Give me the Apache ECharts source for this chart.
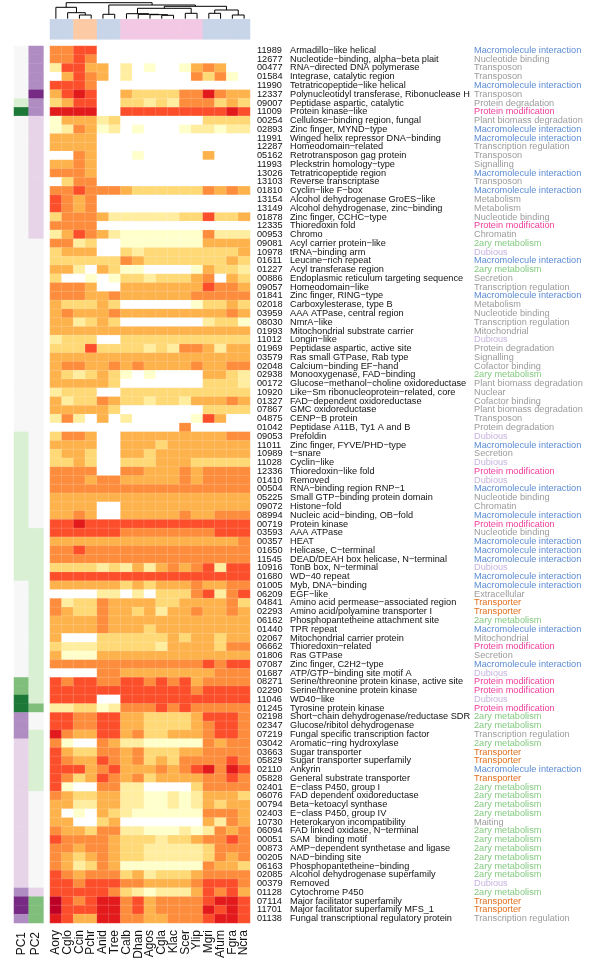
<!DOCTYPE html>
<html><head><meta charset="utf-8">
<script src="https://cdn.jsdelivr.net/npm/echarts@6/dist/echarts.min.js"></script>
<style>html,body{margin:0;padding:0;background:#fff}#c{width:600px;height:965px}</style>
</head><body><div id="c"></div>
<script>
const species = ['Aory','Cglo','Ccin','Pchr','Anid','Tree','Calb','Dhan','Agos','Cgla','Klac','Scer','Ylip','Mgri','Afum','Fgra','Ncra'];
const speciesGroup = [1,1,2,2,1,1,3,3,3,3,3,3,3,1,1,1,1];
const pcLabels = ['PC1','PC2'];

const domainIds = ['11989','12677','00477','01584','11990','12337','09007','11009','00254','02893',
'11991','12287','05162','11993','13026','13103','01810','13154','13149','01878',
'12335','00953','09081','10978','01611','01227','00886','09057','01841','02018',
'03959','08030','01993','11012','01969','03579','02048','02938','00172','10920',
'01327','07867','04875','01042','09053','11011','10989','11028','12336','01410',
'00504','05225','09072','08994','00719','03593','00357','01650','11545','10916',
'01680','01005','06209','04841','02293','06162','01440','02067','06662','01806',
'07087','01687','08271','02290','11046','01245','02198','02347','07219','03042',
'03663','05829','02110','05828','02401','06076','00794','02403','10730','06094',
'00051','00873','00205','06163','02085','00379','01128','07114','11701','01138'];

const domainNames = ['Armadillo−like helical','Nucleotide−binding, alpha−beta plait','RNA−directed DNA polymerase','Integrase, catalytic region','Tetratricopeptide−like helical','Polynucleotidyl transferase, Ribonuclease H','Peptidase aspartic, catalytic','Protein kinase−like','Cellulose−binding region, fungal','Zinc finger, MYND−type',
'Winged helix repressor DNA−binding','Homeodomain−related','Retrotransposon gag protein','Pleckstrin homology−type','Tetratricopeptide region','Reverse transcriptase','Cyclin−like F−box','Alcohol dehydrogenase GroES−like','Alcohol dehydrogenase, zinc−binding','Zinc finger, CCHC−type',
'Thioredoxin fold','Chromo','Acyl carrier protein−like','tRNA−binding arm','Leucine−rich repeat','Acyl transferase region','Endoplasmic reticulum targeting sequence','Homeodomain−like','Zinc finger, RING−type','Carboxylesterase, type B',
'AAA ATPase, central region','NmrA−like','Mitochondrial substrate carrier','Longin−like','Peptidase aspartic, active site','Ras small GTPase, Rab type','Calcium−binding EF−hand','Monooxygenase, FAD−binding','Glucose−methanol−choline oxidoreductase','Like−Sm ribonucleoprotein−related, core',
'FAD−dependent oxidoreductase','GMC oxidoreductase','CENP−B protein','Peptidase A11B, Ty1 A and B','Prefoldin','Zinc finger, FYVE/PHD−type','t−snare','Cyclin−like','Thioredoxin−like fold','Removed',
'RNA−binding region RNP−1','Small GTP−binding protein domain','Histone−fold','Nucleic acid−binding, OB−fold','Protein kinase','AAA ATPase','HEAT','Helicase, C−terminal','DEAD/DEAH box helicase, N−terminal','TonB box, N−terminal',
'WD−40 repeat','Myb, DNA−binding','EGF−like','Amino acid permease−associated region','Amino acid/polyamine transporter I','Phosphopantetheine attachment site','TPR repeat','Mitochondrial carrier protein','Thioredoxin−related','Ras GTPase',
'Zinc finger, C2H2−type','ATP/GTP−binding site motif A','Serine/threonine protein kinase, active site','Serine/threonine protein kinase','WD40−like','Tyrosine protein kinase','Short−chain dehydrogenase/reductase SDR','Glucose/ribitol dehydrogenase','Fungal specific transcription factor','Aromatic−ring hydroxylase',
'Sugar transporter','Sugar transporter superfamily','Ankyrin','General substrate transporter','E−class P450, group I','FAD dependent oxidoreductase','Beta−ketoacyl synthase','E−class P450, group IV','Heterokaryon incompatibility','FAD linked oxidase, N−terminal',
'SAM  binding motif','AMP−dependent synthetase and ligase','NAD−binding site','Phosphopantetheine−binding','Alcohol dehydrogenase superfamily','Removed','Cytochrome P450','Major facilitator superfamily','Major facilitator superfamily MFS_1','Fungal transcriptional regulatory protein'];

const domainClass = ['Macromolecule interaction','Nucleotide binding','Transposon','Transposon','Macromolecule interaction','Transposon','Protein degradation','Protein modification','Plant biomass degradation','Macromolecule interaction',
'Macromolecule interaction','Transcription regulation','Transposon','Signalling','Macromolecule interaction','Transposon','Macromolecule interaction','Metabolism','Metabolism','Nucleotide binding',
'Protein modification','Chromatin','2ary metabolism','Dubious','Macromolecule interaction','2ary metabolism','Secretion','Transcription regulation','Macromolecule interaction','Metabolism',
'Nucleotide binding','Transcription regulation','Mitochondrial','Dubious','Protein degradation','Signalling','Cofactor binding','2ary metabolism','Plant biomass degradation','Nuclear',
'Cofactor binding','Plant biomass degradation','Transposon','Protein degradation','Dubious','Macromolecule interaction','Secretion','Dubious','Protein modification','Dubious',
'Macromolecule interaction','Nucleotide binding','Chromatin','Macromolecule interaction','Protein modification','Nucleotide binding','Macromolecule interaction','Macromolecule interaction','Macromolecule interaction','Dubious',
'Macromolecule interaction','Macromolecule interaction','Extracellular','Transporter','Transporter','2ary metabolism','Macromolecule interaction','Mitochondrial','Protein modification','Secretion',
'Macromolecule interaction','Dubious','Protein modification','Protein modification','Dubious','Protein modification','2ary metabolism','2ary metabolism','Transcription regulation','2ary metabolism',
'Transporter','Transporter','Macromolecule interaction','Transporter','2ary metabolism','2ary metabolism','2ary metabolism','2ary metabolism','Maiting','2ary metabolism',
'2ary metabolism','2ary metabolism','2ary metabolism','2ary metabolism','2ary metabolism','Dubious','2ary metabolism','Transporter','Transporter','Transcription regulation'];

// principal component colour classes per domain (-3 purple .. +3 green)
const pc1 = [0,0,0,0,0,0,1,3,0,0, 0,0,0,0,0,0,0,0,0,0, 0,0,0,0,0,0,0,0,0,0, 0,0,0,0,0,0,0,0,0,0,
 0,0,0,0,1,1,1,1,1,1, 1,1,1,1,1,1,1,1,1,1, 1,0,0,0,0,0,0,0,0,0, 0,0,2,2,3,3,-2,-2,-2,-1,
 -1,-1,-1,-1,-1,-1,-1,-1,-1,-1, -1,-1,-1,-1,-1,-1,-2,-3,-3,-2];
const pc2 = [-2,-2,-2,-2,-2,-3,-2,-2,-1,-1, -1,-1,-1,-1,-1,-1,-1,-1,-1,-1, -1,-1,0,0,0,0,0,0,0,0,
 0,0,0,0,0,0,0,0,0,0, 0,0,0,0,0,0,0,0,0,0, 0,0,0,0,0,1,1,1,1,1, 1,1,1,1,1,1,1,1,1,1,
 1,1,1,1,1,2,0,0,1,1, 1,1,1,1,1,0,0,0,0,0, 0,0,0,0,0,0,-1,2,2,2];

// abundance class per domain (row) and species (column order as `species`), 0 = absent
const counts = [
'55660000000000000','55650000000000000','26644020100145400','04654020000053510','66650000000000000',
'46760043333557544','34660033232555343','77770066666666676','14442300000003333','12541201000122122',
'44440000000000000','44440000000000000','00540001000004000','44540000000000000','55540000000000000',
'03550000000000000','55655543333335454','65450000000000000','65450000000000000','35554222222336334',
'55550000000000000','24654211111115222','55230011111114444','34440032333333334','33333354333333343',
'44204311000014332','30010133233345043','55540044444446554','55544544444455555','43334300000013343',
'45444544444444454','44234300000002331','44444444444444444','23330033333333333','33363333232554244',
'44444444444444444','45544545444454455','43234310100004432','44444300000003332','23330033333333333',
'42335433233244454','44444300000003333','25204020000016400','00000000000500000','35540044444444455',
'44440044434444444','34430044344444444','33430033344433333','55550055444545555','55545544444545555',
'55555555555555555','44444444444444444','44440044444444444','44540044444544555','66766666666666666',
'66666655555555666','44444444444444445','55655555555555555','55555555555555555','33332324245456266',
'66666666666666666','44444434344454455','00002202033356256','52335444433444453','54335443424454454',
'44445444444444444','44445444344444444','40003333334344344','32223333324444355','41114444444444444',
'55555555555556566','00005544444444555','65665566565645555','66666666666656666','66660066666666666',
'22331255565655555','66556644333346665','66556644333345665','75446645334445665','51005422111115455',
'64335545333445555','65446545343555565','66645644454567576','65346545344445565','61005522000035555',
'54334422112124443','44224422112124344','40104321111115554','44003400000004254','54435522111212545',
'65555433323345565','55455433222223555','54345433222223545','54235411111115443','65455534233345555',
'66566655444456665','66666532122246564','86567756455556776','86667756455557676','76447755445556776'];

// species dendrogram: hclust-style merges (negative = leaf number, positive = earlier merge), with merge height
const dendroMerges = [
 [-3,-4,3.7],[-2,1,6.0],[-1,2,11.4],[-5,-6,4.4],[-10,-11,3.4],[-9,5,4.0],[-8,6,4.4],[-7,7,5.0],
 [-12,-13,5.4],[8,9,10.4],[-14,-15,5.4],[-16,-17,3.7],[11,12,8.7],[10,13,12.4],[4,14,13.7],[3,15,16.0]];

const heatColors = ['#ffffff','#ffffcc','#ffeda0','#fed976','#feb24c','#fd8d3c','#fc4e2a','#e31a1c','#bd0026'];
const pcColors = {'-3':'#762a83','-2':'#af8dc3','-1':'#e7d4e8','0':'#f7f7f7','1':'#d9f0d3','2':'#7fbf7b','3':'#1b7837'};
const groupColors = {1:'#c8d4e8',2:'#fdcaa6',3:'#f2c8e4'};
const classColors = {'Macromolecule interaction':'#5b8bd3','Protein modification':'#f03c9b','Transporter':'#e2701f','2ary metabolism':'#84cb80','Dubious':'#c6b4de'};

const FONT = 'Liberation Sans, Arial, Helvetica, sans-serif';
const rowIdx = domainIds.map((d,i)=>String(i));

const heatData = [];
counts.forEach((s,r)=>{ s.split('').forEach((ch,c)=>{ heatData.push([c, r, Number(ch)]); }); });
const pcData = [];
for (let r=0;r<pc1.length;r++){ pcData.push([0,r,pc1[r]]); pcData.push([1,r,pc2[r]]); }
const groupData = speciesGroup.map((g,c)=>[c,0,g]);

// dendrogram node positions
const nodeX = [], nodeH = [];
const dendroData = [];
function childPos(k){ return k<0 ? [-k-1, 0] : [nodeX[k-1], nodeH[k-1]]; }
dendroMerges.forEach((m,i)=>{
  const a = childPos(m[0]), b = childPos(m[1]);
  nodeX[i] = (a[0]+b[0])/2; nodeH[i] = m[2];
  dendroData.push([a[0],a[1],b[0],b[1],m[2]]);
});

const chart = echarts.init(document.getElementById('c'), null, {renderer:'canvas'});
const hmTop = 46, hmH = 877;
chart.setOption({
  animation:false,
  backgroundColor:'#ffffff',
  grid:[
    {left:50, width:200, top:hmTop, height:hmH},
    {left:14, width:29.4, top:hmTop, height:hmH},
    {left:50, width:200, top:19.3, height:20},
    {left:50, width:200, top:0, height:18.7}
  ],
  xAxis:[
    {gridIndex:0, type:'category', data:species, position:'bottom', axisLine:{show:false}, axisTick:{show:false}, splitLine:{show:false},
     axisLabel:{rotate:90, interval:0, margin:7, fontSize:12, fontFamily:FONT, color:'#111'}},
    {gridIndex:1, type:'category', data:pcLabels, position:'bottom', axisLine:{show:false}, axisTick:{show:false},
     axisLabel:{rotate:90, interval:0, margin:9, fontSize:12, fontFamily:FONT, color:'#111'}},
    {gridIndex:2, type:'category', data:species, show:false},
    {gridIndex:3, type:'value', min:-0.5, max:16.5, show:false}
  ],
  yAxis:[
    {gridIndex:0, type:'category', data:domainIds, inverse:true, position:'right', axisLine:{show:false}, axisTick:{show:false},
     axisLabel:{interval:0, margin:7, fontSize:9.2, fontFamily:FONT, color:'#111'}},
    {gridIndex:0, type:'category', data:domainNames, inverse:true, position:'right', offset:33, axisLine:{show:false}, axisTick:{show:false},
     axisLabel:{interval:0, margin:7, fontSize:9.2, fontFamily:FONT, color:'#111'}},
    {gridIndex:0, type:'category', data:rowIdx, inverse:true, position:'right', offset:217, axisLine:{show:false}, axisTick:{show:false},
     axisLabel:{interval:0, margin:7, fontSize:9.2, fontFamily:FONT,
       formatter:(v)=>domainClass[+v],
       color:(v)=>classColors[domainClass[+v]] || '#9b9b9b'}},
    {gridIndex:1, type:'category', data:rowIdx, inverse:true, show:false},
    {gridIndex:2, type:'category', data:['g'], show:false},
    {gridIndex:3, type:'value', min:0, max:18.7, show:false}
  ],
  visualMap:[
    {type:'piecewise', show:false, seriesIndex:0, dimension:2,
     pieces:heatColors.map((col,k)=>({value:k, color:col}))},
    {type:'piecewise', show:false, seriesIndex:1, dimension:2,
     pieces:Object.keys(pcColors).map(k=>({value:+k, color:pcColors[k]}))},
    {type:'piecewise', show:false, seriesIndex:2, dimension:2,
     pieces:Object.keys(groupColors).map(k=>({value:+k, color:groupColors[k]}))}
  ],
  series:[
    {type:'heatmap', xAxisIndex:0, yAxisIndex:0, data:heatData,
     itemStyle:{borderColor:'rgba(255,255,255,0.28)', borderWidth:0.5}, emphasis:{disabled:true}, progressive:0},
    {type:'heatmap', xAxisIndex:1, yAxisIndex:3, data:pcData,
     itemStyle:{borderColor:'rgba(255,255,255,0.15)', borderWidth:0.3}, emphasis:{disabled:true}},
    {type:'heatmap', xAxisIndex:2, yAxisIndex:4, data:groupData, emphasis:{disabled:true}},
    {type:'custom', xAxisIndex:3, yAxisIndex:5, data:dendroData, silent:true,
     renderItem:(params, api)=>{
       const xa=api.value(0), ha=api.value(1), xb=api.value(2), hb=api.value(3), h=api.value(4);
       return {type:'polyline', shape:{points:[api.coord([xa,ha]),api.coord([xa,h]),api.coord([xb,h]),api.coord([xb,hb])]},
               style:{stroke:'#000', fill:null, lineWidth:1}};
     }}
  ]
});
</script></body></html>
